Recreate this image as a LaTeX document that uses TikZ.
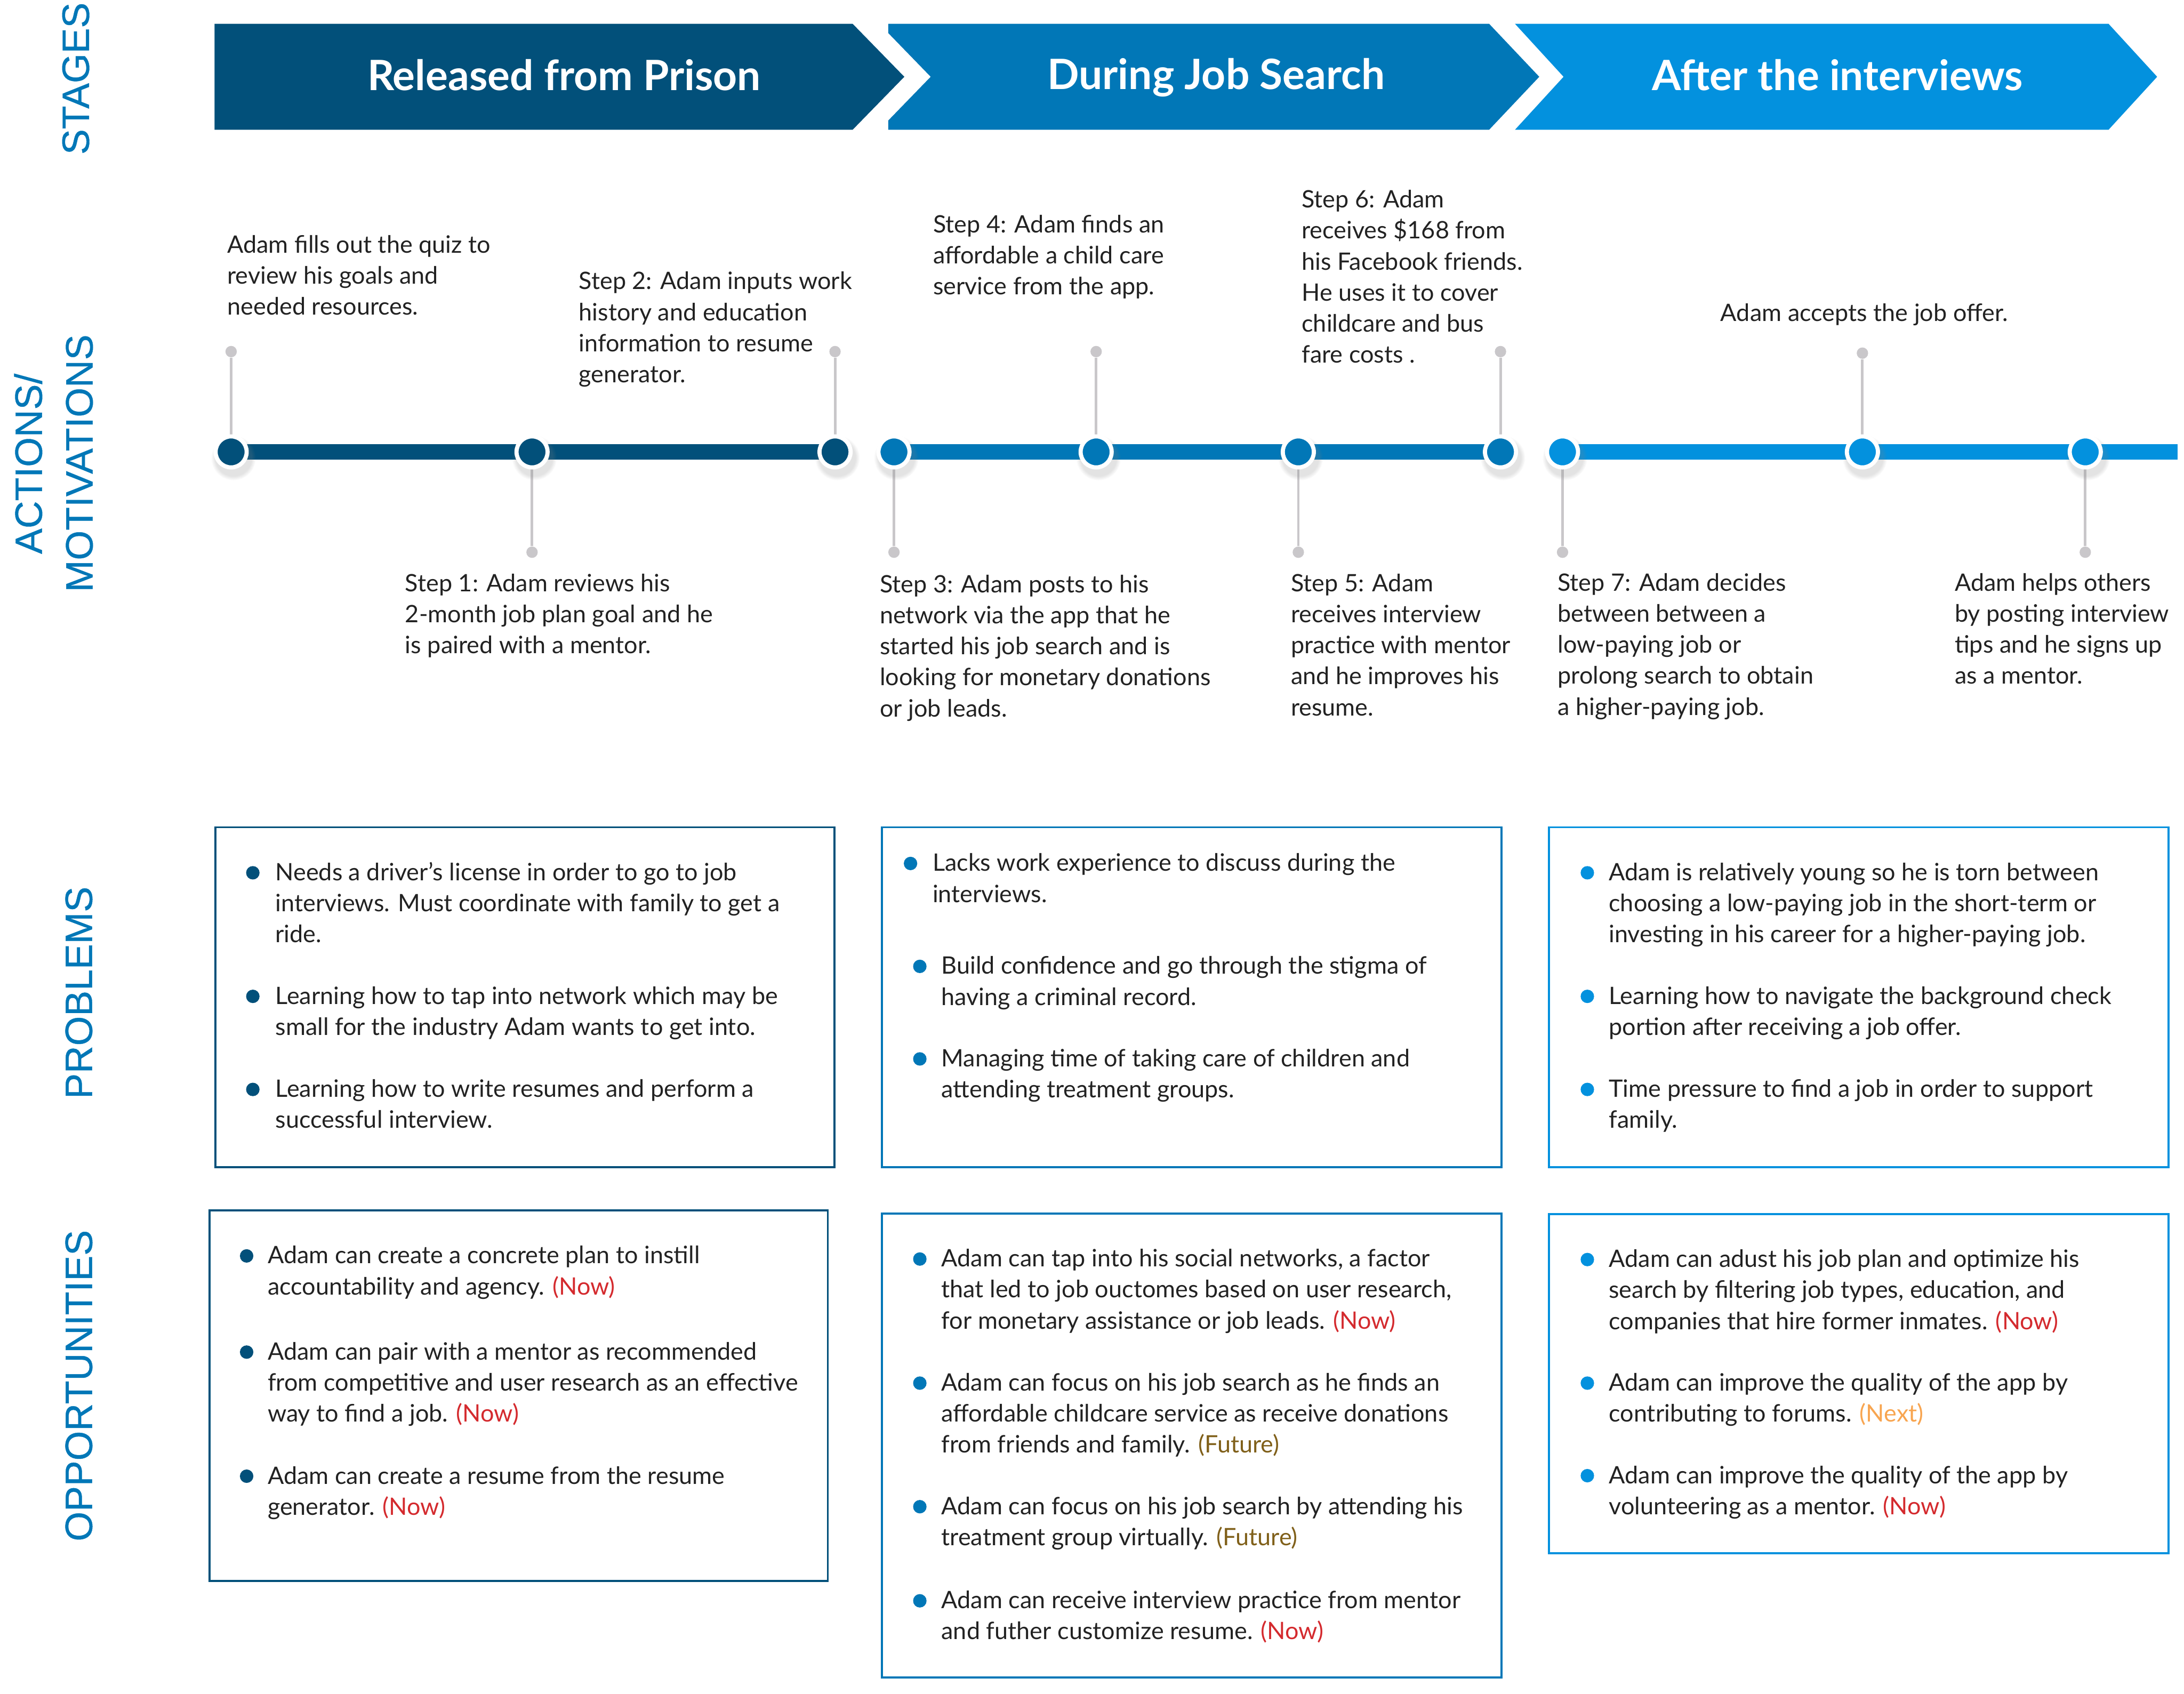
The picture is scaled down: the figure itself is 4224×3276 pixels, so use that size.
\documentclass[tikz,border=0pt]{standalone}
\usepackage{fontspec}
\setmainfont{Lato}
\newfontfamily\headfont{Lato}[BoldFont={* Bold}]
\newfontfamily\sidefont{Liberation Sans}[FakeBold=0.6]
\usetikzlibrary{positioning, shadows, fadings}
\usepackage{xcolor}

\definecolor{navy}{HTML}{02507A}
\definecolor{midblue}{HTML}{0177B7}
\definecolor{skyblue}{HTML}{0391DE}
\definecolor{stemgray}{HTML}{C9C7CA}
\definecolor{txt}{HTML}{222222}
\definecolor{nowred}{HTML}{D42A2E}
\definecolor{futurebrown}{HTML}{80601A}
\definecolor{nextorange}{HTML}{F8A550}

\newcommand{\tagnow}{\textcolor{nowred}{(Now)}}
\newcommand{\tagfuture}{\textcolor{futurebrown}{(Future)}}
\newcommand{\tagnext}{\textcolor{nextorange}{(Next)}}

\begin{document}
\begin{tikzpicture}[x=0.01cm, y=-0.01cm,
  stage/.style = {font=\headfont\bfseries\fontsize{23}{27}\selectfont, text=white, anchor=base, inner sep=0pt},
  side/.style = {font=\sidefont\fontsize{21}{24}\selectfont, text=midblue, rotate=90, anchor=base, inner sep=0pt},
  % notes are anchored on the baseline of their LAST line
  note/.style = {font=\fontsize{13.2}{17.07}\selectfont, text=txt, align=left, anchor=base west, inner sep=0pt},
  dot/.style = {circle, fill=#1, draw=white, line width=0.08cm, minimum size=0.6cm, inner sep=0pt,
                circular drop shadow={shadow xshift=0.03cm, shadow yshift=-0.08cm, shadow scale=1.45,
                opacity=0.22, path fading={circle with fuzzy edge 20 percent}}},
  stemend/.style = {circle, fill=stemgray, minimum size=0.22cm, inner sep=0pt},
  stem/.style = {stemgray, line width=0.05cm},
  tline/.style = {line width=0.3cm},
  bul/.style = {circle, fill=#1, minimum size=0.26cm, inner sep=0pt},
  card/.style = {draw=#1, line width=0.04cm}
]
\useasboundingbox (0,0) rectangle (4224,3276);

% side labels
\node[side] (lstages) at (172,152) {STAGES};
\node[side] (lact)  at (81,897)  {ACTIONS/};
\node[side] (lmot)  at (179,896) {MOTIVATIONS};
\node[side] (lprob) at (178,1920) {PROBLEMS};
\node[side] (lopp)  at (178,2680) {OPPORTUNITIES};

%--- stage banners
\fill[navy] (415,46) -- (1649,46) -- (1749,148.5) -- (1649,251) -- (415,251) -- cycle;
\fill[midblue] (1718,46) -- (2880,46) -- (2977,148.5) -- (2880,251) -- (1718,251) -- (1718,233)
  -- (1800,148.5) -- (1718,64) -- cycle;
\fill[skyblue] (2930,46) -- (4078,46) -- (4172,148.5) -- (4078,251) -- (2930,251) -- (3024,148.5) -- cycle;
\node[stage] (st1) at (1091,175) {Released from Prison};
\node[stage] (st2) at (2352,173) {During Job Search};
\node[stage] (st3) at (3554,175) {After the interviews};

%--- timeline anchors
\coordinate (tend) at (4212,874);

% stem ends (up / down)
\node[stemend] (s1)  at (447,680)  {};
\node[stemend] (s2)  at (1029,1068) {};
\node[stemend] (s3)  at (1615,680)  {};
\node[stemend] (s4)  at (1729,1068) {};
\node[stemend] (s5)  at (2120,680)  {};
\node[stemend] (s6)  at (2511,1068) {};
\node[stemend] (s7)  at (2902,680)  {};
\node[stemend] (s8)  at (3022,1068) {};
\node[stemend] (s9)  at (3602,683)  {};
\node[stemend] (s10) at (4033,1068) {};

% timeline segments
\coordinate (c1) at (447,874);  \coordinate (c3) at (1615,874);
\coordinate (c4) at (1729,874); \coordinate (c7) at (2902,874);
\coordinate (c8) at (3022,874);
\draw[tline, navy] (c1) -- (c3);
\draw[tline, midblue] (c4) -- (c7);
\draw[tline, skyblue] (c8) -- (tend);

% stems
\foreach \i/\x in {1/447, 2/1029, 3/1615, 4/1729, 5/2120, 6/2511, 7/2902, 8/3022, 9/3602, 10/4033}
  \draw[stem] (s\i) -- (\x,874);

% dots
\node[dot=navy] (d1) at (447,874) {};
\node[dot=navy] (d2) at (1029,874) {};
\node[dot=navy] (d3) at (1615,874) {};
\node[dot=midblue] (d4) at (1729,874) {};
\node[dot=midblue] (d5) at (2120,874) {};
\node[dot=midblue] (d6) at (2511,874) {};
\node[dot=midblue] (d7) at (2902,874) {};
\node[dot=skyblue] (d8) at (3022,874) {};
\node[dot=skyblue] (d9) at (3602,874) {};
\node[dot=skyblue] (d10) at (4033,874) {};

%--- actions / motivations
\node[note] (a0) at (439,609) {Adam fills out the quiz to\\review his goals and\\needed resources.};
\node[note] (a1) at (783,1264) {Step 1: Adam reviews his\\2-month job plan goal and he\\is paired with a mentor.};
\node[note] (a2) at (1119,740) {Step 2: Adam inputs work\\history and education\\information to resume\\generator.};
\node[note] (a3) at (1701,1386) {Step 3: Adam posts to his\\network via the app that he\\started his job search and is\\looking for monetary donations\\or job leads.};
\node[note] (a4) at (1804,570) {Step 4: Adam finds an\\affordable a child care\\service from the app.};
\node[note] (a5) at (2496,1384) {Step 5: Adam\\receives interview\\practice with mentor\\and he improves his\\resume.};
\node[note] (a6) at (2517,702) {Step 6: Adam\\receives \$168 from\\his Facebook friends.\\He uses it to cover\\childcare and bus\\fare costs .};
\node[note] (a7) at (3012,1383) {Step 7: Adam decides\\between between a\\low-paying job or\\prolong search to obtain\\a higher-paying job.};
\node[note] (a8) at (3327,621) {Adam accepts the job offer.};
\node[note] (a9) at (3780,1323) {Adam helps others\\by posting interview\\tips and he signs up\\as a mentor.};

%--- problem cards
\draw[card=navy] (417,1600) rectangle (1614,2257);
\draw[card=midblue] (1706,1600) rectangle (2904,2257);
\draw[card=skyblue] (2996,1600) rectangle (4194,2257);

\node[bul=navy] (p1b1) at (489,1688) {};
\node[note] (p1t1) at (532,1823) {Needs a driver's license in order to go to job\\interviews. Must coordinate with family to get a\\ride.};
\node[bul=navy] (p1b2) at (489,1927) {};
\node[note] (p1t2) at (532,2002) {Learning how to tap into network which may be\\small for the industry Adam wants to get into.};
\node[bul=navy] (p1b3) at (489,2107) {};
\node[note] (p1t3) at (532,2182) {Learning how to write resumes and perform a\\successful interview.};

\node[bul=midblue] (p2b1) at (1761,1670) {};
\node[note] (p2t1) at (1803,1745) {Lacks work experience to discuss during the\\interviews.};
\node[bul=midblue] (p2b2) at (1779,1869) {};
\node[note] (p2t2) at (1820,1944) {Build confidence and go through the stigma of\\having a criminal record.};
\node[bul=midblue] (p2b3) at (1779,2048) {};
\node[note] (p2t3) at (1820,2123) {Managing time of taking care of children and\\attending treatment groups.};

\node[bul=skyblue] (p3b1) at (3070,1688) {};
\node[note] (p3t1) at (3111,1823) {Adam is relatively young so he is torn between\\choosing a low-paying job in the short-term or\\investing in his career for a higher-paying job.};
\node[bul=skyblue] (p3b2) at (3070,1927) {};
\node[note] (p3t2) at (3111,2002) {Learning how to navigate the background check\\portion after receiving a job offer.};
\node[bul=skyblue] (p3b3) at (3070,2107) {};
\node[note] (p3t3) at (3111,2182) {Time pressure to find a job in order to support\\family.};

%--- opportunity cards
\draw[card=navy] (405,2341) rectangle (1601,3058);
\draw[card=midblue] (1706,2347) rectangle (2904,3244);
\draw[card=skyblue] (2996,2348) rectangle (4194,3004);

\node[bul=navy] (o1b1) at (477,2429) {};
\node[note] (o1t1) at (517,2504) {Adam can create a concrete plan to instill\\accountability and agency. \tagnow};
\node[bul=navy] (o1b2) at (477,2615) {};
\node[note] (o1t2) at (517,2750) {Adam can pair with a mentor as recommended\\from competitive and user research as an effective\\way to find a job. \tagnow};
\node[bul=navy] (o1b3) at (477,2855) {};
\node[note] (o1t3) at (517,2930) {Adam can create a resume from the resume\\generator. \tagnow};

\node[bul=midblue] (o2b1) at (1779,2435) {};
\node[note] (o2t1) at (1820,2570) {Adam can tap into his social networks, a factor\\that led to job ouctomes based on user research,\\for monetary assistance or job leads. \tagnow};
\node[bul=midblue] (o2b2) at (1779,2675) {};
\node[note] (o2t2) at (1820,2810) {Adam can focus on his job search as he finds an\\affordable childcare service as receive donations\\from friends and family. \tagfuture};
\node[bul=midblue] (o2b3) at (1779,2914) {};
\node[note] (o2t3) at (1820,2989) {Adam can focus on his job search by attending his\\treatment group virtually. \tagfuture};
\node[bul=midblue] (o2b4) at (1779,3096) {};
\node[note] (o2t4) at (1820,3171) {Adam can receive interview practice from mentor\\and futher customize resume. \tagnow};

\node[bul=skyblue] (o3b1) at (3070,2436) {};
\node[note] (o3t1) at (3111,2571) {Adam can adust his job plan and optimize his\\search by filtering job types, education, and\\companies that hire former inmates. \tagnow};
\node[bul=skyblue] (o3b2) at (3070,2675) {};
\node[note] (o3t2) at (3111,2750) {Adam can improve the quality of the app by\\contributing to forums. \tagnext};
\node[bul=skyblue] (o3b3) at (3070,2854) {};
\node[note] (o3t3) at (3111,2929) {Adam can improve the quality of the app by\\volunteering as a mentor. \tagnow};

\end{tikzpicture}
\end{document}
